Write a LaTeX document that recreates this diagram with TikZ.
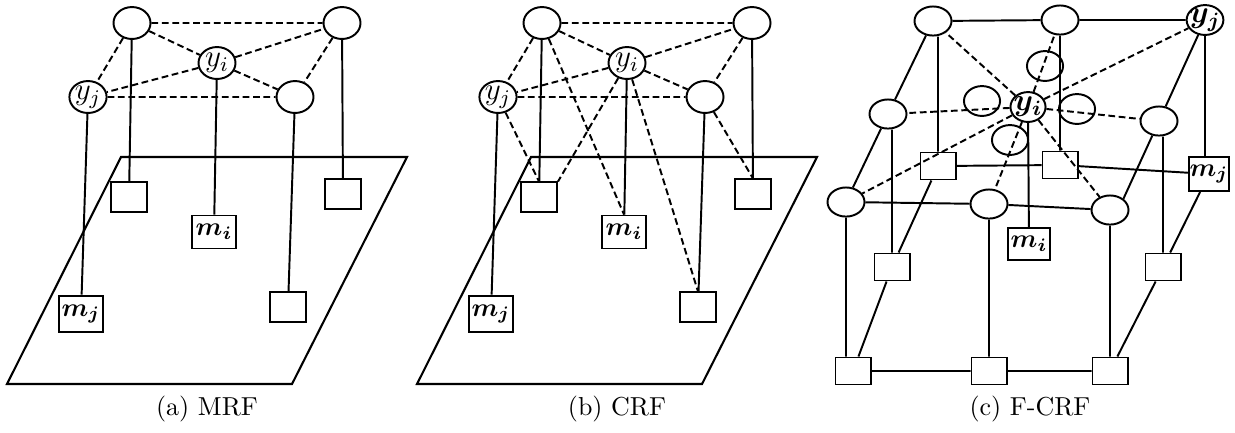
\documentclass[tikz,border=0pt]{standalone}
\usepackage{bm}
\usetikzlibrary{shapes.geometric}
\tikzset{
  base/.style={draw, line width=0.75pt, inner sep=0pt},
  ell/.style={base, ellipse, fill=white, minimum width=14.25pt, minimum height=12.3pt, font=\large},
  ellc/.style={base, ellipse, fill=white, minimum width=14.25pt, minimum height=11.2pt, font=\large},
  ring/.style={base, ellipse, minimum width=13.9pt, minimum height=11.5pt},
  sq/.style={base, rectangle, fill=white, minimum width=13.9pt, minimum height=11.2pt},
  sqc/.style={base, rectangle, fill=white, minimum width=13.5pt, minimum height=10.4pt},
  obs/.style={base, rectangle, fill=white, minimum width=16.9pt, minimum height=12.7pt},
  sedge/.style={line width=0.75pt},
  dedge/.style={line width=0.75pt, dash pattern=on 2.6pt off 1.4pt},
  plane/.style={line width=0.8pt},
  captext/.style={inner sep=0pt, font=\normalsize}
}
\begin{document}
\begin{tikzpicture}[x=0.385pt, y=-0.385pt]
\path[use as bounding box] (0,0) rectangle (1235,432);

% ---------- panels (a) and (b)
\foreach \p/\s in {a/0pt,b/157.85pt}{
\begin{scope}[xshift=\s]
  \draw[plane] (121,157) coordinate (\p P1) -- (407,157) coordinate (\p P2)
     -- (292,384) coordinate (\p P3) -- (7,384) coordinate (\p P4) -- cycle;
  \node[ell] (\p1) at (132,23) {};
  \node[ell] (\p2) at (342,23) {};
  \node[ell] (\p3) at (217,63) {$y_i$};
  \node[ell] (\p4) at (88,97) {$y_j$};
  \node[ell] (\p5) at (295,97) {};
  \node[sq] (\p s1) at (129,197) {};
  \node[obs] (\p s2) at (214,232) {$\bm{m_i}$};
  \node[sq] (\p s3) at (343,194) {};
  \node[sq] (\p s4) at (288,307) {};
  \node[obs, minimum height=14.2pt] (\p s5) at (81,314) {$\bm{m_j}$};
  \draw[dedge] (\p1)--(\p2) (\p1)--(\p3) (\p1)--(\p4) (\p3)--(\p4)
               (\p3)--(\p2) (\p3)--(\p5) (\p4)--(\p5) (\p2)--(\p5);
  \draw[sedge] (\p4)--(\p s5) (\p1)--(\p s1) (\p3)--(\p s2)
               (\p5)--(\p s4) (\p2)--(\p s3);
\end{scope}}

% extra CRF edges
\draw[dedge] (b1)--(bs2.north) (b4)--(bs1.north) (b3)--(bs1.north east)
             (b3)--(bs4.north) (b5)--(bs3.north);

% ---------- panel (c)
\node[ellc] (c1) at (933,21) {};
\node[ellc] (c2) at (1060,20) {};
\node[ellc, inner sep=-1pt, minimum width=13.1pt, minimum height=11.5pt] (c3) at (1205,20) {$\bm{y_j}$};
\node[ellc] (c4) at (888,114) {};
\node[ellc, inner sep=-1pt, minimum width=13.5pt, minimum height=11.5pt] (c5) at (1028,107) {$\bm{y_i}$};
\node[ellc] (c6) at (1159,121) {};
\node[ellc] (c7) at (846,202) {};
\node[ellc] (c8) at (989,204) {};
\node[ellc] (c9) at (1110,210) {};
\node[ring] (n1) at (1045,66) {};
\node[ring] (n2) at (982,101) {};
\node[ring] (n3) at (1077,109) {};
\node[ring] (n4) at (1010,140) {};

\node[sqc] (d1) at (938,166) {};
\node[sqc] (d2) at (1060,165) {};
\node[obs, minimum width=15.4pt, minimum height=13.1pt] (d3) at (1209,174) {$\bm{m_j}$};
\node[obs, minimum width=16.2pt, minimum height=12pt] (d4) at (1029,244) {$\bm{m_i}$};
\node[sqc] (d5) at (892,267) {};
\node[sqc] (d6) at (1163,267) {};
\node[sqc] (d7) at (853,371) {};
\node[sqc] (d8) at (989,371) {};
\node[sqc] (d9) at (1110,371) {};

\draw[sedge] (c1)--(c2) (c2)--(c3) (c1)--(c4) (c4)--(c7) (c3)--(c6) (c6)--(c9.40)
  (d1.north) -- (d1.north |- c1.south)
  (c2.south) -- (c2.south |- d2.north)
  (c3.south) -- (c3.south |- d3.north)
  (d5.north) -- (d5.north |- c4.south)
  (d6.north) -- (d6.north |- c6.south)
  (c7.south) -- (c7.south |- d7.north)
  (c8.south) -- (c8.south |- d8.north)
  (c9.south) -- (c9.south |- d9.north)
  (c5) -- (d4)
  (d1)--(d2) (d2)--(d3) (d1)--(d5) (d5)--(d7) (d3)--(d6) (d6)--(d9)
  (d7)--(d8) (d8)--(d9) (c7)--(c8) (c8)--(c9);

\draw[dedge] (c5)--(c1) (c5)--(c2) (c5)--(c3) (c5)--(c4)
             (c5)--(c6) (c5)--(c7) (c5)--(c8) (c5)--(c9);

% ---------- captions
\node[captext] (capa) at (207,409) {(a) MRF};
\node[captext] (capb) at (617,409) {(b) CRF};
\node[captext] (capc) at (1030,409) {(c) F-CRF};
\end{tikzpicture}
\end{document}
